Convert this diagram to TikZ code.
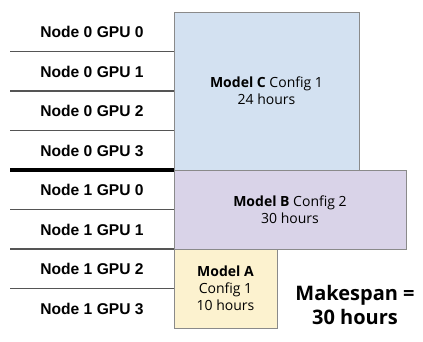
\documentclass[tikz,border=0pt]{standalone}
\usepackage{fontspec}
\setmainfont{Open Sans}
\newfontfamily\labfont{Liberation Sans}
\definecolor{cblue}{HTML}{D3E1F1}
\definecolor{blav}{HTML}{D9D3E8}
\definecolor{ayel}{HTML}{FCF2CF}
\definecolor{bord}{HTML}{8A8A8A}
\definecolor{sep}{HTML}{555555}
\tikzset{
  rowlabel/.style={font=\labfont\bfseries\fontsize{15.6}{18}\selectfont, inner sep=0pt, anchor=center},
  jobbox/.style={draw=bord, line width=1pt, inner sep=0pt, align=center, font=\fontsize{14}{17}\selectfont},
  thinsep/.style={draw=sep, line width=1.3pt},
  thicksep/.style={draw=black, line width=4pt},
}
\begin{document}
\begin{tikzpicture}[x=1pt,y=-1pt]
\useasboundingbox (0,0) rectangle (423,341);
% row labels
\foreach \n/\g/\y [count=\i from 0] in {0/0/32,0/1/71.5,0/2/111,0/3/150.5,1/0/190,1/1/229.5,1/2/269,1/3/308.5}{
  \node[rowlabel] (r\i) at (92,\y) {Node \n\ GPU \g};
}
% separators
\foreach \y [count=\i] in {51.5,91,130.5,209.5,249,288.5}{
  \coordinate (sl\i) at (10,\y);
  \coordinate (sr\i) at (174,\y);
  \draw[thinsep] (sl\i) -- (sr\i);
}
\coordinate (tl) at (10,170);
\coordinate (tr) at (174,170);
\draw[thicksep] (tl) -- (tr);
% job boxes
\node[jobbox, fill=cblue, minimum width=185pt, minimum height=158pt] (C) at (266.5,91) {\textbf{Model C} Config 1\\24 hours};
\node[jobbox, fill=blav, minimum width=232pt, minimum height=79pt] (B) at (290,209.5) {\textbf{Model B} Config 2\\30 hours};
\node[jobbox, fill=ayel, minimum width=103pt, minimum height=79pt] (A) at (225.5,288.5) {\textbf{Model A}\\Config 1\\10 hours};
\node[align=center, inner sep=0pt, font=\bfseries\fontsize{20}{24}\selectfont] (M) at (355,305) {Makespan =\\30 hours};
\end{tikzpicture}
\end{document}
